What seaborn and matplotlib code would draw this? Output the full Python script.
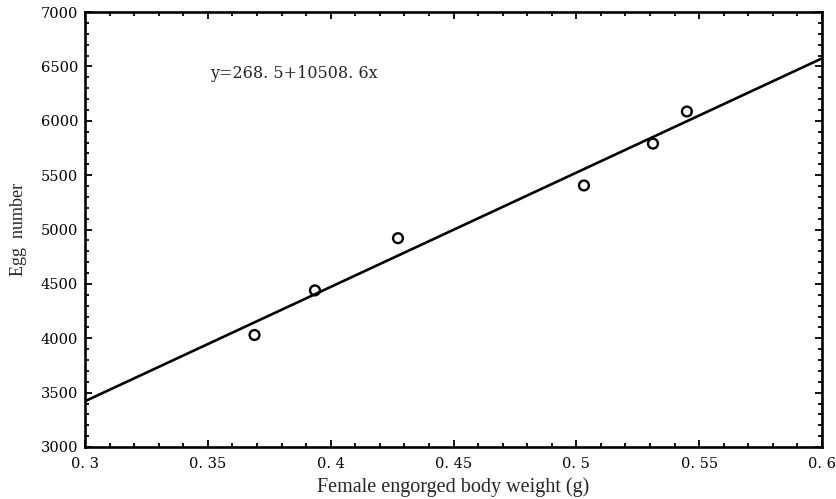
import numpy as np
import pandas as pd
import seaborn as sns
import matplotlib.pyplot as plt
from matplotlib.ticker import FuncFormatter, MultipleLocator

# data
body_weight = [0.369, 0.3936, 0.4274, 0.5031, 0.5312, 0.545]
egg_number = [4030, 4440, 4920, 5405, 5790, 6085]
intercept = 268.5
slope = 10508.6
x_range = [0.3, 0.6]

sns.set_theme(style="ticks")
plt.rcParams['font.family'] = ['Liberation Serif', 'DejaVu Serif']

fig = plt.figure(figsize=(8.36, 4.99), dpi=100)
ax = fig.add_axes([85 / 836, 1 - 447 / 499, 737 / 836, 435 / 499])

df = pd.DataFrame({'x': body_weight, 'y': egg_number})
line_x = np.array(x_range)
line_df = pd.DataFrame({'x': line_x, 'y': intercept + slope * line_x})

sns.lineplot(data=line_df, x='x', y='y', ax=ax, color='black', lw=1.9)
sns.scatterplot(data=df, x='x', y='y', ax=ax, marker='o', s=50,
                facecolor='none', edgecolor='black', linewidth=1.7, zorder=3)

ax.set_xlim(0.3, 0.6)
ax.set_ylim(3000, 7000)
ax.xaxis.set_major_locator(MultipleLocator(0.05))
ax.xaxis.set_minor_locator(MultipleLocator(0.01))
ax.yaxis.set_major_locator(MultipleLocator(500))
ax.yaxis.set_minor_locator(MultipleLocator(100))

def fmt_x(v, pos):
    s = ('%.2f' % v).rstrip('0')
    return s.replace('.', '. ')

ax.xaxis.set_major_formatter(FuncFormatter(fmt_x))
ax.tick_params(which='both', direction='in', top=True, right=True,
               width=1.3, colors='black')
ax.tick_params(which='major', length=5, pad=5)
ax.tick_params(axis='x', which='major', pad=7)
ax.tick_params(which='minor', length=3)
for lab in ax.get_xticklabels() + ax.get_yticklabels():
    lab.set_family('DejaVu Serif')
    lab.set_fontsize(10.5)
for sp in ax.spines.values():
    sp.set_linewidth(1.9)
    sp.set_color('black')

ax.set_xlabel('Female engorged body weight (g)', fontsize=14.5, labelpad=5)
ax.set_ylabel('Egg  number', fontsize=13, labelpad=10)

ax.text(0.351, 6439, 'y=268. 5+10508. 6x', fontsize=11.5, va='center',
        ha='left', family='DejaVu Serif')

fig.savefig('out.png', dpi=100)
